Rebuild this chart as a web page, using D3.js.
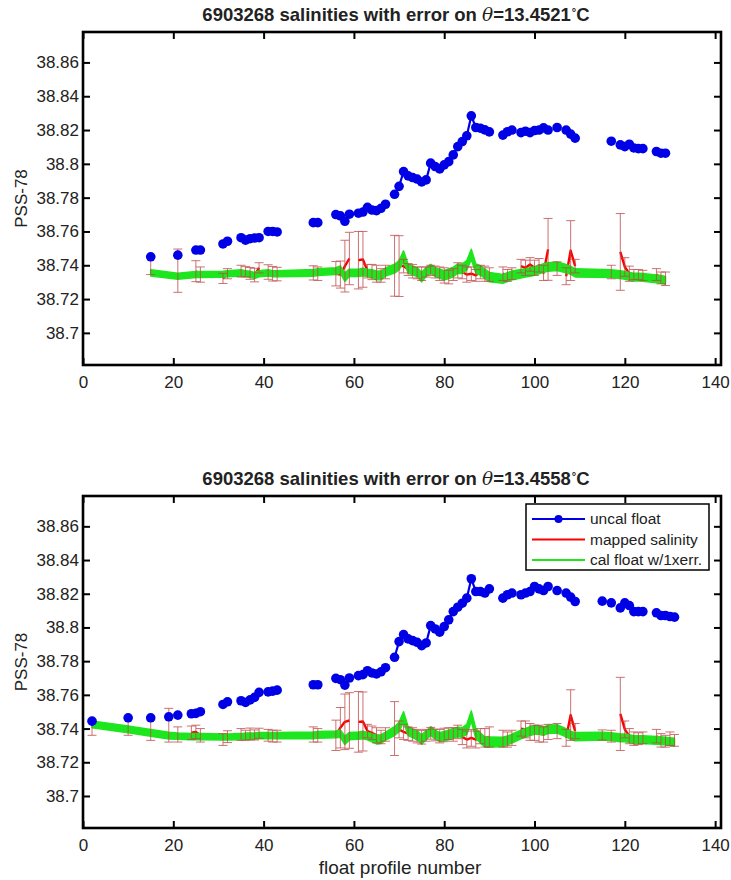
<!DOCTYPE html>
<html>
<head>
<meta charset="utf-8">
<style type="text/css">
    body { margin: 0; background: #ffffff; }
    svg text { font-family: "Liberation Sans", Arial, Helvetica, sans-serif; fill: #222; }
</style>
</head>
<body>
<svg width="731" height="880"></svg>
<script src="https://cdn.jsdelivr.net/npm/d3@7"></script>
<script type="text/javascript">

    // ---- upper panel, theta = 13.4521
    const profTop = [
        15, 21, 25, 26, 31, 32, 35, 36, 37, 38,
        39, 41, 42, 43, 51, 52, 56, 57, 58, 59,
        61, 62, 63, 64, 65, 66, 67, 69, 70, 71,
        72, 73, 74, 75, 76, 77, 78, 79, 80, 81,
        82, 83, 84, 85, 86, 87, 88, 89, 90, 93,
        94, 95, 97, 98, 99, 100, 101, 102, 103, 105,
        107, 108, 109, 117, 119, 120, 121, 122, 123, 124,
        127, 128, 129];
    const uncalTop = [
        38.745, 38.746, 38.749, 38.749, 38.7526, 38.7542, 38.7563, 38.7549, 38.7557, 38.7561,
        38.7563, 38.760, 38.760, 38.7597, 38.7652, 38.7652, 38.770, 38.7692, 38.766, 38.7702,
        38.7708, 38.7715, 38.7743, 38.7727, 38.7723, 38.7737, 38.7761, 38.782, 38.7867, 38.7954,
        38.7929, 38.7919, 38.791, 38.7893, 38.7905, 38.8004, 38.7984, 38.797, 38.7994, 38.8013,
        38.8053, 38.8102, 38.8132, 38.8166, 38.8284, 38.8215, 38.8211, 38.8201, 38.8189, 38.817,
        38.819, 38.820, 38.8185, 38.8193, 38.8185, 38.8197, 38.820, 38.8213, 38.820, 38.8215,
        38.820, 38.8176, 38.8152, 38.8134, 38.8112, 38.8102, 38.8116, 38.8094, 38.809, 38.809,
        38.8073, 38.8063, 38.8063];
    const mappedTop = [
        38.7397, 38.7368, 38.7365, 38.7345, 38.7322, 38.7350, 38.7365, 38.7362, 38.7352, 38.7342,
        38.7385, 38.7360, 38.7350, 38.7348, 38.7355, 38.7350, 38.7350, 38.7345, 38.7395, 38.7440,
        38.7430, 38.7435, 38.7365, 38.7360, 38.7350, 38.7340, 38.7360, 38.7397, 38.7395, 38.7395,
        38.7375, 38.7365, 38.7355, 38.7350, 38.7360, 38.7370, 38.7360, 38.7350, 38.7340, 38.7330,
        38.7345, 38.7370, 38.7360, 38.7345, 38.7350, 38.7340, 38.7360, 38.7350, 38.7345, 38.7350,
        38.7340, 38.7350, 38.7395, 38.7385, 38.7405, 38.7385, 38.7400, 38.7355, 38.7494, 38.7380,
        38.7335, 38.7487, 38.7395, 38.7360, 38.7479, 38.7390, 38.7350, 38.7345, 38.7345, 38.7340,
        38.7345, 38.7325, 38.7320];
    const mapErrTop = [
        0.0052, 0.0128, 0.0062, 0.0045, 0.0030, 0.0030, 0.0035, 0.0030, 0.0035, 0.0040,
        0.0030, 0.0043, 0.0043, 0.0040, 0.0042, 0.0040, 0.0072, 0.0080, 0.0153, 0.0155,
        0.0170, 0.0165, 0.0040, 0.0045, 0.0050, 0.0040, 0.0040, 0.0180, 0.0180, 0.0040,
        0.0035, 0.0040, 0.0035, 0.0040, 0.0030, 0.0030, 0.0035, 0.0040, 0.0045, 0.0040,
        0.0035, 0.0045, 0.0040, 0.0045, 0.0040, 0.0035, 0.0040, 0.0045, 0.0040, 0.0040,
        0.0035, 0.0035, 0.0040, 0.0045, 0.0040, 0.0045, 0.0040, 0.0045, 0.0183, 0.0040,
        0.0050, 0.0177, 0.0040, 0.0040, 0.0227, 0.0055, 0.0045, 0.0030, 0.0030, 0.0030,
        0.0035, 0.0035, 0.0040];
    const calTop = [
        38.7355, 38.7335, 38.7345, 38.7345, 38.7347, 38.7350, 38.7355, 38.7350, 38.7347, 38.7340,
        38.7350, 38.7355, 38.7350, 38.7350, 38.7355, 38.7360, 38.7366, 38.7374, 38.7330, 38.7355,
        38.7355, 38.7360, 38.7355, 38.7350, 38.7340, 38.7340, 38.7360, 38.7380, 38.7400, 38.7455,
        38.7380, 38.7370, 38.7360, 38.7330, 38.7360, 38.7380, 38.7360, 38.7350, 38.7340, 38.7350,
        38.7360, 38.7380, 38.7380, 38.7400, 38.7465, 38.7380, 38.7370, 38.7350, 38.7330, 38.7320,
        38.7330, 38.7340, 38.7350, 38.7355, 38.7360, 38.7366, 38.7374, 38.7384, 38.7390, 38.7394,
        38.7380, 38.7370, 38.7355, 38.7350, 38.7345, 38.7340, 38.7335, 38.7330, 38.7330, 38.7328,
        38.7320, 38.7316, 38.7310];
    const calErrTop = [
        0.0018, 0.0018, 0.0018, 0.0018, 0.0018, 0.0018, 0.0018, 0.0018, 0.0018, 0.0018,
        0.0018, 0.0018, 0.0018, 0.0018, 0.0020, 0.0020, 0.0020, 0.0022, 0.0025, 0.0022,
        0.0022, 0.0022, 0.0022, 0.0024, 0.0026, 0.0026, 0.0024, 0.0026, 0.0028, 0.0030,
        0.0026, 0.0026, 0.0026, 0.0028, 0.0026, 0.0026, 0.0026, 0.0026, 0.0028, 0.0028,
        0.0028, 0.0028, 0.0028, 0.0028, 0.0030, 0.0028, 0.0028, 0.0028, 0.0028, 0.0026,
        0.0026, 0.0026, 0.0025, 0.0025, 0.0025, 0.0025, 0.0025, 0.0025, 0.0025, 0.0025,
        0.0024, 0.0024, 0.0024, 0.0023, 0.0023, 0.0023, 0.0023, 0.0023, 0.0023, 0.0023,
        0.0023, 0.0023, 0.0023];

    // ---- lower panel, theta = 13.4558
    const profBot = [
        2, 10, 15, 19, 21, 24, 25, 26, 31, 32,
        35, 36, 37, 38, 39, 41, 42, 43, 51, 52,
        56, 57, 58, 59, 61, 62, 63, 64, 65, 66,
        67, 69, 70, 71, 72, 73, 74, 75, 76, 77,
        78, 79, 80, 81, 82, 83, 84, 85, 86, 87,
        88, 89, 90, 93, 94, 95, 97, 98, 99, 100,
        101, 102, 103, 105, 107, 108, 109, 115, 117, 119,
        120, 121, 122, 123, 124, 127, 128, 129, 130, 131];
    const uncalBot = [
        38.7444, 38.7464, 38.7464, 38.7470, 38.7480, 38.7488, 38.7490, 38.7500, 38.7543, 38.7559,
        38.7565, 38.7555, 38.7570, 38.7585, 38.7615, 38.7618, 38.7622, 38.7628, 38.7660, 38.7660,
        38.7698, 38.7690, 38.7658, 38.7700, 38.7714, 38.7720, 38.7743, 38.7730, 38.7724, 38.7737,
        38.7761, 38.7823, 38.7916, 38.7958, 38.7932, 38.7922, 38.7912, 38.7892, 38.7908, 38.8011,
        38.7991, 38.7972, 38.8005, 38.8045, 38.8094, 38.8120, 38.8144, 38.8174, 38.8289, 38.8213,
        38.8213, 38.8204, 38.8229, 38.8174, 38.8194, 38.8204, 38.8194, 38.8204, 38.8213, 38.8243,
        38.8229, 38.8219, 38.8243, 38.8219, 38.8204, 38.8180, 38.8154, 38.8156, 38.8146, 38.8116,
        38.8146, 38.8130, 38.8094, 38.8094, 38.8094, 38.8087, 38.8071, 38.8071, 38.8065, 38.8061];
    const mappedBot = [
        38.7405, 38.7410, 38.7390, 38.7420, 38.7365, 38.7375, 38.7380, 38.7360, 38.7335, 38.7352,
        38.7365, 38.7360, 38.7368, 38.7362, 38.7372, 38.7360, 38.7355, 38.7355, 38.7365, 38.7360,
        38.7360, 38.7405, 38.7440, 38.7448, 38.7440, 38.7442, 38.7385, 38.7375, 38.7360, 38.7350,
        38.7365, 38.7400, 38.7395, 38.7380, 38.7370, 38.7365, 38.7355, 38.7348, 38.7360, 38.7372,
        38.7362, 38.7355, 38.7362, 38.7370, 38.7365, 38.7380, 38.7350, 38.7335, 38.7345, 38.7335,
        38.7355, 38.7345, 38.7350, 38.7340, 38.7335, 38.7345, 38.7400, 38.7395, 38.7380, 38.7375,
        38.7370, 38.7365, 38.7380, 38.7385, 38.7345, 38.7480, 38.7385, 38.7362, 38.7355, 38.7487,
        38.7395, 38.7355, 38.7340, 38.7340, 38.7345, 38.7355, 38.7330, 38.7325, 38.7340, 38.7330];
    const mapErrBot = [
        0.0045, 0.0050, 0.0060, 0.0100, 0.0045, 0.0040, 0.0040, 0.0040, 0.0035, 0.0035,
        0.0035, 0.0030, 0.0035, 0.0030, 0.0030, 0.0035, 0.0035, 0.0035, 0.0045, 0.0040,
        0.0090, 0.0120, 0.0165, 0.0165, 0.0180, 0.0175, 0.0040, 0.0040, 0.0045, 0.0040,
        0.0040, 0.0160, 0.0050, 0.0045, 0.0040, 0.0040, 0.0040, 0.0040, 0.0035, 0.0035,
        0.0035, 0.0040, 0.0040, 0.0035, 0.0040, 0.0040, 0.0045, 0.0050, 0.0050, 0.0050,
        0.0045, 0.0055, 0.0060, 0.0050, 0.0045, 0.0045, 0.0045, 0.0050, 0.0050, 0.0045,
        0.0050, 0.0045, 0.0045, 0.0045, 0.0050, 0.0150, 0.0045, 0.0030, 0.0035, 0.0217,
        0.0050, 0.0045, 0.0040, 0.0035, 0.0035, 0.0040, 0.0040, 0.0035, 0.0040, 0.0035];
    const calBot = [
        38.7425, 38.7395, 38.7375, 38.7358, 38.7355, 38.7352, 38.7352, 38.7352, 38.7350, 38.7350,
        38.7352, 38.7355, 38.7355, 38.7356, 38.7358, 38.7358, 38.7358, 38.7358, 38.7360, 38.7362,
        38.7366, 38.7370, 38.7330, 38.7355, 38.7358, 38.7362, 38.7355, 38.7345, 38.7335, 38.7338,
        38.7355, 38.7385, 38.7410, 38.7470, 38.7385, 38.7372, 38.7360, 38.7335, 38.7360, 38.7385,
        38.7365, 38.7350, 38.7355, 38.7362, 38.7372, 38.7380, 38.7378, 38.7395, 38.7475, 38.7370,
        38.7345, 38.7320, 38.7320, 38.7320, 38.7330, 38.7340, 38.7365, 38.7375, 38.7385, 38.7392,
        38.7392, 38.7385, 38.7395, 38.7398, 38.7375, 38.7360, 38.7352, 38.7355, 38.7352, 38.7345,
        38.7345, 38.7340, 38.7335, 38.7335, 38.7335, 38.7330, 38.7328, 38.7325, 38.7322, 38.7320];
    const calErrBot = [
        0.0020, 0.0020, 0.0020, 0.0020, 0.0018, 0.0018, 0.0018, 0.0018, 0.0018, 0.0018,
        0.0018, 0.0018, 0.0018, 0.0018, 0.0018, 0.0018, 0.0018, 0.0018, 0.0020, 0.0020,
        0.0020, 0.0022, 0.0025, 0.0022, 0.0022, 0.0022, 0.0022, 0.0024, 0.0026, 0.0026,
        0.0024, 0.0026, 0.0028, 0.0030, 0.0026, 0.0026, 0.0026, 0.0028, 0.0026, 0.0026,
        0.0026, 0.0026, 0.0028, 0.0028, 0.0028, 0.0028, 0.0028, 0.0030, 0.0030, 0.0030,
        0.0030, 0.0030, 0.0030, 0.0028, 0.0026, 0.0026, 0.0026, 0.0026, 0.0026, 0.0026,
        0.0025, 0.0025, 0.0025, 0.0025, 0.0024, 0.0024, 0.0024, 0.0023, 0.0023, 0.0023,
        0.0023, 0.0023, 0.0023, 0.0023, 0.0023, 0.0023, 0.0023, 0.0023, 0.0023, 0.0023];

    const xTicks = [0, 20, 40, 60, 80, 100, 120, 140];
    const yTicks = [38.7, 38.72, 38.74, 38.76, 38.78, 38.8, 38.82, 38.84, 38.86];
    const xDomain = [0, 141.3];
    const yDomain = [38.681, 38.878];
    const legendLabels = ["uncal float", "mapped salinity", "cal float w/1xerr."];

    const colBlue = "#0000e6", colRed = "#ff0000", colGreen = "#1ee61e", colBar = "#bd4646";

    const svg = d3.select("svg");
    const left = 83, right = 721;

    function drawPanel(p) {
        const x = d3.scaleLinear().domain(xDomain).range([left, right]);
        const y = d3.scaleLinear().domain(yDomain).range([p.bottom, p.top]);
        const g = svg.append("g");

        const rows = p.prof.map((n, i) => ({
            n: n, u: p.uncal[i], m: p.mapped[i], e: p.mapErr[i], c: p.cal[i], ce: p.calErr[i]
        }));
        // missing profiles break the blue and red lines
        const gapped = [];
        rows.forEach((r, i) => {
            if (i > 0 && r.n - rows[i - 1].n > 1) gapped.push(null);
            gapped.push(r);
        });

        // mapped salinity (red) line
        g.append("path")
            .datum(gapped)
            .attr("fill", "none")
            .attr("stroke", colRed)
            .attr("stroke-width", 2.4)
            .attr("stroke-linejoin", "round")
            .attr("d", d3.line().defined(d => d !== null).x(d => x(d.n)).y(d => y(d.m)));

        // calibrated float band (green)
        g.append("path")
            .datum(rows)
            .attr("fill", colGreen)
            .attr("stroke", colGreen)
            .attr("stroke-width", 1.5)
            .attr("stroke-linejoin", "round")
            .attr("d", d3.area().x(d => x(d.n)).y0(d => y(d.c - d.ce)).y1(d => y(d.c + d.ce)));

        // error bars of mapped salinity
        const bars = g.append("g")
            .attr("stroke", colBar)
            .attr("stroke-width", 0.9)
            .attr("opacity", 0.85);
        rows.forEach(d => {
            const cx = x(d.n), y1 = y(d.m + d.e), y2 = y(d.m - d.e);
            bars.append("line").attr("x1", cx).attr("x2", cx).attr("y1", y1).attr("y2", y2);
            bars.append("line").attr("x1", cx - 4.5).attr("x2", cx + 4.5).attr("y1", y1).attr("y2", y1);
            bars.append("line").attr("x1", cx - 4.5).attr("x2", cx + 4.5).attr("y1", y2).attr("y2", y2);
        });

        // uncal float (blue)
        g.append("path")
            .datum(gapped)
            .attr("fill", "none")
            .attr("stroke", colBlue)
            .attr("stroke-width", 2.2)
            .attr("d", d3.line().defined(d => d !== null).x(d => x(d.n)).y(d => y(d.u)));
        g.selectAll("circle.u")
            .data(rows)
            .enter()
            .append("circle")
            .attr("class", "u")
            .attr("cx", d => x(d.n))
            .attr("cy", d => y(d.u))
            .attr("r", 4.8)
            .attr("fill", colBlue);

        // axes, ticks pointing inward on all four sides
        const fmt = d => String(+d.toFixed(2));
        const ax = g.append("g").attr("transform", "translate(0," + p.bottom + ")")
            .call(d3.axisBottom(x).tickValues(xTicks).tickSizeInner(-7).tickSizeOuter(0).tickPadding(9).tickFormat(d3.format("d")));
        const ax2 = g.append("g").attr("transform", "translate(0," + p.top + ")")
            .call(d3.axisTop(x).tickValues(xTicks).tickSizeInner(-7).tickSizeOuter(0).tickFormat(""));
        const ay = g.append("g").attr("transform", "translate(" + left + ",0)")
            .call(d3.axisLeft(y).tickValues(yTicks).tickSizeInner(-7).tickSizeOuter(0).tickPadding(4).tickFormat(fmt));
        const ay2 = g.append("g").attr("transform", "translate(" + right + ",0)")
            .call(d3.axisRight(y).tickValues(yTicks).tickSizeInner(-7).tickSizeOuter(0).tickFormat(""));
        [ax, ax2, ay, ay2].forEach(a => {
            a.select(".domain").remove();
            a.selectAll(".tick line").attr("stroke", "#000").attr("stroke-width", 2);
            a.selectAll(".tick text").style("font-size", "17px").attr("fill", "#222");
        });
        ax.selectAll(".tick text").attr("dy", "0.85em");

        g.append("rect")
            .attr("x", left).attr("y", p.top)
            .attr("width", right - left).attr("height", p.bottom - p.top)
            .attr("fill", "none").attr("stroke", "#000").attr("stroke-width", 2.6);

        // title
        const t = g.append("text")
            .attr("x", (left + right) / 2 - 6)
            .attr("y", p.top - 11)
            .attr("text-anchor", "middle")
            .style("font-size", "18.5px")
            .style("font-weight", "bold");
        t.append("tspan").text("6903268 salinities with error on ");
        t.append("tspan").style("font-style", "italic").style("font-family", "'DejaVu Serif', serif").style("font-weight", "normal").text("θ");
        t.append("tspan").text("=" + p.theta);
        t.append("tspan").attr("dy", -5).attr("dx", 1).style("font-size", "11px").text("°");
        t.append("tspan").attr("dy", 5).text("C");

        // y label
        g.append("text")
            .attr("transform", "translate(27," + (p.top + p.bottom) / 2 + ") rotate(-90)")
            .attr("text-anchor", "middle")
            .style("font-size", "17px")
            .text("PSS-78");

        if (p.xlabel) {
            g.append("text")
                .attr("x", (left + right) / 2 - 2)
                .attr("y", p.bottom + 46)
                .attr("text-anchor", "middle")
                .style("font-size", "19px")
                .text("float profile number");
        }

        if (p.legend) {
            const lg = g.append("g");
            lg.append("rect")
                .attr("x", 526).attr("y", 504).attr("width", 183).attr("height", 66)
                .attr("fill", "#fff").attr("stroke", "#000").attr("stroke-width", 1.5);
            const cols = [colBlue, colRed, colGreen];
            legendLabels.forEach((lab, i) => {
                const ly = 519 + i * 20.5;
                lg.append("line").attr("x1", 532).attr("x2", 585).attr("y1", ly).attr("y2", ly)
                    .attr("stroke", cols[i]).attr("stroke-width", 2.2);
                if (i === 0) lg.append("circle").attr("cx", 558.5).attr("cy", ly).attr("r", 4).attr("fill", colBlue);
                lg.append("text").attr("x", 590).attr("y", ly).attr("dy", "0.35em")
                    .style("font-size", "15.5px").text(lab);
            });
        }
    }

    drawPanel({ top: 32, bottom: 365, theta: "13.4521", prof: profTop, uncal: uncalTop, mapped: mappedTop,
        mapErr: mapErrTop, cal: calTop, calErr: calErrTop, xlabel: false, legend: false });
    drawPanel({ top: 496, bottom: 828, theta: "13.4558", prof: profBot, uncal: uncalBot, mapped: mappedBot,
        mapErr: mapErrBot, cal: calBot, calErr: calErrBot, xlabel: true, legend: true });

</script>
</body>
</html>
